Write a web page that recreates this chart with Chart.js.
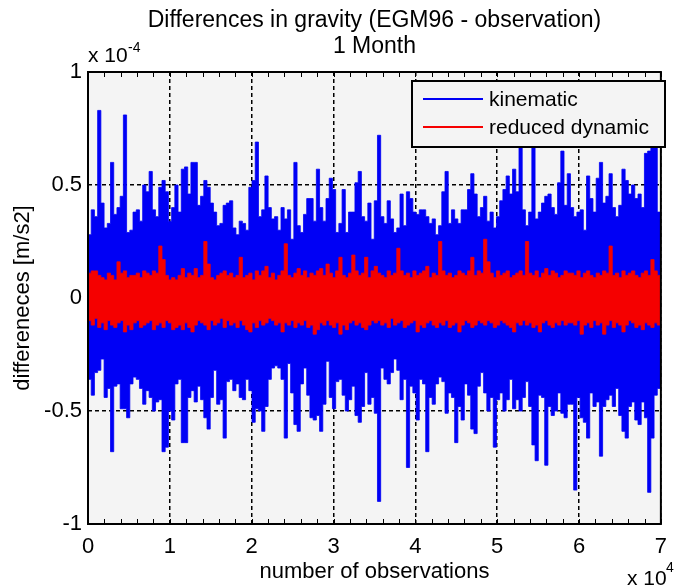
<!DOCTYPE html>
<html>
<head>
<meta charset="utf-8">
<script src="https://cdn.jsdelivr.net/npm/chart.js@4.4.1/dist/chart.umd.min.js"></script>
<style>
  html, body { margin: 0; padding: 0; background: #fff; }
</style>
</head>
<body>
<canvas id="chart" width="677" height="587"></canvas>
<script>
const titleLines = ["Differences in gravity (EGM96 - observation)", "1 Month"];
const xLabel = "number of observations";
const yLabel = "differeneces [m/s2]";
const seriesNames = ["kinematic", "reduced dynamic"];

const xMajor = [0, 10000, 20000, 30000, 40000, 50000, 60000, 70000];
const xTickLabels = ["0", "1", "2", "3", "4", "5", "6", "7"];
const yTicks = [-1, -0.5, 0, 0.5, 1];
const yTickLabels = ["-1", "-0.5", "0", "0.5", "1"];

// Envelope of the series: one max and one min per
// bin of observations. Values are in units of 1e-4 m/s2 (axis multiplier).
const binWidth = 393;

const kinHigh = [
  0.28,0.39,0.36,0.83,0.42,0.31,0.33,0.60,0.37,0.40,0.45,0.81,0.29,0.30,0.38,0.39,0.34,0.50,0.47,0.56,0.39,0.36,0.49,0.52,0.47,0.34,0.40,0.50,0.38,0.57,
  0.58,0.46,0.60,0.60,0.41,0.45,0.52,0.49,0.42,0.38,0.32,0.33,0.41,0.42,0.43,0.31,0.28,0.34,0.33,0.30,0.49,0.52,0.69,0.36,0.39,0.54,0.40,0.35,0.36,0.30,
  0.40,0.35,0.39,0.26,0.60,0.32,0.29,0.37,0.44,0.44,0.34,0.57,0.40,0.34,0.44,0.53,0.48,0.29,0.33,0.48,0.29,0.38,0.38,0.51,0.56,0.36,0.34,0.42,0.26,0.43,
  0.72,0.36,0.33,0.43,0.35,0.29,0.31,0.46,0.32,0.47,0.44,0.38,0.37,0.39,0.39,0.36,0.33,0.35,0.28,0.32,0.47,0.56,0.33,0.39,0.35,0.33,0.39,0.39,0.48,0.55,
  0.46,0.36,0.40,0.45,0.34,0.38,0.31,0.36,0.43,0.48,0.54,0.46,0.57,0.47,0.70,0.39,0.32,0.38,0.70,0.35,0.38,0.42,0.45,0.46,0.40,0.37,0.51,0.65,0.41,0.55,
  0.40,0.36,0.38,0.39,0.30,0.54,0.44,0.38,0.53,0.60,0.42,0.45,0.55,0.40,0.36,0.41,0.57,0.52,0.46,0.50,0.44,0.46,0.40,0.64,0.65,0.72,0.69,0.38
];
const kinLow = [
  -0.36,-0.43,-0.33,-0.32,-0.27,-0.44,-0.40,-0.68,-0.39,-0.38,-0.49,-0.49,-0.53,-0.38,-0.35,-0.36,-0.40,-0.47,-0.41,-0.44,-0.50,-0.46,-0.45,-0.68,-0.66,-0.50,-0.54,-0.38,-0.36,-0.64,
  -0.64,-0.44,-0.41,-0.46,-0.39,-0.45,-0.53,-0.58,-0.44,-0.32,-0.47,-0.45,-0.62,-0.37,-0.36,-0.41,-0.38,-0.44,-0.45,-0.36,-0.41,-0.55,-0.49,-0.50,-0.59,-0.48,-0.36,-0.31,-0.30,-0.31,
  -0.36,-0.62,-0.29,-0.42,-0.56,-0.59,-0.38,-0.31,-0.43,-0.53,-0.54,-0.52,-0.59,-0.47,-0.28,-0.44,-0.49,-0.37,-0.36,-0.43,-0.50,-0.45,-0.39,-0.52,-0.55,-0.48,-0.33,-0.47,-0.44,-0.51,
  -0.90,-0.31,-0.36,-0.38,-0.33,-0.27,-0.32,-0.45,-0.36,-0.75,-0.39,-0.42,-0.54,-0.36,-0.38,-0.68,-0.44,-0.47,-0.38,-0.35,-0.37,-0.51,-0.42,-0.44,-0.64,-0.48,-0.54,-0.38,-0.43,-0.58,
  -0.60,-0.39,-0.33,-0.42,-0.50,-0.44,-0.66,-0.45,-0.42,-0.50,-0.45,-0.36,-0.49,-0.45,-0.50,-0.44,-0.37,-0.48,-0.65,-0.72,-0.43,-0.44,-0.74,-0.48,-0.52,-0.50,-0.42,-0.51,-0.53,-0.47,
  -0.47,-0.85,-0.44,-0.53,-0.55,-0.62,-0.42,-0.48,-0.46,-0.70,-0.48,-0.45,-0.43,-0.48,-0.40,-0.52,-0.59,-0.62,-0.48,-0.46,-0.54,-0.56,-0.46,-0.53,-0.86,-0.62,-0.43,-0.40
];
const dynHigh = [
  0.11,0.12,0.12,0.10,0.09,0.08,0.11,0.10,0.08,0.16,0.11,0.12,0.09,0.10,0.10,0.11,0.09,0.12,0.11,0.10,0.12,0.11,0.23,0.17,0.10,0.08,0.09,0.08,0.10,0.13,
  0.09,0.11,0.10,0.13,0.09,0.10,0.25,0.15,0.09,0.08,0.10,0.11,0.12,0.10,0.11,0.09,0.10,0.18,0.09,0.10,0.11,0.08,0.12,0.10,0.12,0.14,0.09,0.11,0.08,0.10,
  0.12,0.24,0.10,0.09,0.11,0.13,0.10,0.12,0.09,0.11,0.10,0.12,0.13,0.10,0.15,0.11,0.09,0.12,0.18,0.10,0.09,0.11,0.19,0.12,0.10,0.11,0.18,0.09,0.12,0.14,
  0.11,0.10,0.09,0.12,0.10,0.11,0.22,0.12,0.10,0.11,0.09,0.12,0.10,0.11,0.12,0.14,0.09,0.11,0.10,0.25,0.12,0.10,0.11,0.09,0.10,0.12,0.11,0.10,0.12,0.18,
  0.10,0.12,0.11,0.26,0.16,0.11,0.09,0.12,0.10,0.11,0.12,0.09,0.10,0.11,0.12,0.10,0.25,0.11,0.10,0.12,0.09,0.11,0.13,0.10,0.12,0.11,0.09,0.10,0.12,0.11,
  0.11,0.10,0.12,0.09,0.11,0.12,0.10,0.09,0.11,0.10,0.12,0.11,0.23,0.10,0.11,0.09,0.12,0.10,0.11,0.12,0.10,0.09,0.11,0.12,0.10,0.17,0.12,0.10
];
const dynLow = [
  -0.10,-0.12,-0.09,-0.13,-0.11,-0.14,-0.10,-0.12,-0.13,-0.11,-0.10,-0.15,-0.12,-0.14,-0.11,-0.10,-0.13,-0.12,-0.11,-0.10,-0.14,-0.12,-0.11,-0.13,-0.10,-0.11,-0.14,-0.13,-0.12,-0.14,
  -0.11,-0.13,-0.15,-0.12,-0.10,-0.11,-0.12,-0.14,-0.10,-0.12,-0.11,-0.09,-0.13,-0.10,-0.12,-0.11,-0.13,-0.10,-0.12,-0.14,-0.15,-0.11,-0.13,-0.10,-0.12,-0.11,-0.09,-0.10,-0.12,-0.11,
  -0.15,-0.11,-0.12,-0.10,-0.13,-0.11,-0.12,-0.10,-0.13,-0.12,-0.16,-0.14,-0.11,-0.12,-0.10,-0.12,-0.13,-0.11,-0.16,-0.12,-0.14,-0.11,-0.10,-0.12,-0.11,-0.13,-0.14,-0.12,-0.10,-0.11,
  -0.10,-0.12,-0.11,-0.13,-0.09,-0.12,-0.11,-0.10,-0.13,-0.12,-0.11,-0.10,-0.15,-0.12,-0.13,-0.11,-0.10,-0.12,-0.13,-0.11,-0.12,-0.10,-0.13,-0.12,-0.11,-0.15,-0.12,-0.10,-0.11,-0.13,
  -0.12,-0.10,-0.11,-0.12,-0.10,-0.11,-0.13,-0.12,-0.10,-0.11,-0.12,-0.13,-0.15,-0.11,-0.12,-0.10,-0.12,-0.11,-0.13,-0.12,-0.15,-0.11,-0.10,-0.12,-0.13,-0.11,-0.12,-0.10,-0.12,-0.11,
  -0.11,-0.12,-0.10,-0.16,-0.12,-0.11,-0.13,-0.10,-0.12,-0.11,-0.16,-0.12,-0.10,-0.13,-0.11,-0.12,-0.15,-0.12,-0.10,-0.11,-0.13,-0.12,-0.14,-0.11,-0.12,-0.13,-0.11,-0.12
];

const FONT = '"Liberation Sans", Arial, sans-serif';
const BLUE = "rgb(0,0,245)";
const RED = "rgb(245,0,0)";

// One step per bin; the last value is held to the end of its bin.
function steps(vals) {
  const pts = vals.map((v, i) => ({ x: i * binWidth, y: v }));
  pts.push({ x: vals.length * binWidth, y: vals[vals.length - 1] });
  return pts;
}

function bandEdge(label, vals, color, fillTo, order) {
  return {
    label: label,
    data: steps(vals),
    borderColor: color,
    backgroundColor: color,
    borderWidth: 0.8,
    stepped: "before",
    pointRadius: 0,
    fill: fillTo,
    order: order,
  };
}

// MATLAB-style frame: grey axes background, box, inside ticks, legend, titles.
const matlabFrame = {
  id: "matlabFrame",
  beforeDraw(chart) {
    const { ctx, chartArea: a } = chart;
    ctx.save();
    ctx.fillStyle = "#fff";
    ctx.fillRect(0, 0, chart.width, chart.height);
    ctx.fillStyle = "#f4f4f4";
    ctx.fillRect(a.left, a.top, a.right - a.left, a.bottom - a.top);
    ctx.restore();
  },
  afterDraw(chart) {
    const { ctx, chartArea: a } = chart;
    const xs = chart.scales.x;
    ctx.save();

    // inside tick marks on top and bottom edges
    ctx.strokeStyle = "#000";
    ctx.lineWidth = 1;
    xs.ticks.forEach((t) => {
      const px = Math.round(xs.getPixelForValue(t.value)) + 0.5;
      ctx.beginPath();
      ctx.moveTo(px, a.bottom);
      ctx.lineTo(px, a.bottom - 5);
      ctx.moveTo(px, a.top);
      ctx.lineTo(px, a.top + 5);
      ctx.stroke();
    });

    // axes box
    ctx.lineWidth = 2;
    ctx.strokeRect(a.left, a.top, a.right - a.left, a.bottom - a.top);

    // legend, one row per series (upper edge dataset of each band)
    const lx = 412, ly = 81, lw = 253, lh = 66;
    ctx.fillStyle = "#f4f4f4";
    ctx.fillRect(lx, ly, lw, lh);
    ctx.lineWidth = 2;
    ctx.strokeRect(lx, ly, lw, lh);
    const rows = [99, 127];
    [0, 2].forEach((di, i) => {
      const ds = chart.data.datasets[di];
      ctx.strokeStyle = ds.borderColor;
      ctx.lineWidth = 2;
      ctx.beginPath();
      ctx.moveTo(423, rows[i]);
      ctx.lineTo(483, rows[i]);
      ctx.stroke();
      ctx.fillStyle = "#000";
      ctx.font = "21px " + FONT;
      ctx.textAlign = "left";
      ctx.textBaseline = "middle";
      ctx.fillText(ds.label, 489, rows[i] + 1);
    });

    // title
    const cx = (a.left + a.right) / 2;
    ctx.fillStyle = "#000";
    ctx.textAlign = "center";
    ctx.textBaseline = "alphabetic";
    ctx.font = "23px " + FONT;
    ctx.fillText(titleLines[0], cx, 27);
    ctx.fillText(titleLines[1], cx, 53);

    // axis multipliers
    ctx.textAlign = "left";
    ctx.font = "21px " + FONT;
    ctx.fillText("x 10", 88, 62);
    ctx.font = "14px " + FONT;
    ctx.fillText("-4", 128, 52);
    ctx.font = "21px " + FONT;
    ctx.fillText("x 10", 627, 585);
    ctx.font = "14px " + FONT;
    ctx.fillText("4", 666, 572);

    ctx.restore();
  },
};

new Chart(document.getElementById("chart"), {
  type: "line",
  data: {
    datasets: [
      bandEdge(seriesNames[0], kinHigh, BLUE, 1, 2),
      bandEdge(seriesNames[0] + " (min)", kinLow, BLUE, false, 2),
      bandEdge(seriesNames[1], dynHigh, RED, 3, 1),
      bandEdge(seriesNames[1] + " (min)", dynLow, RED, false, 1),
    ],
  },
  options: {
    responsive: false,
    animation: false,
    events: [],
    layout: { padding: { top: 72, right: 5, left: 0, bottom: 0 } },
    scales: {
      x: {
        type: "linear",
        min: 0,
        max: 70000,
        afterFit: (s) => { s.height = 63; },
        ticks: {
          stepSize: 2000,
          autoSkip: false,
          maxRotation: 0,
          padding: 10,
          color: "#000",
          font: { family: FONT, size: 22 },
          callback: (v) => {
            const k = xMajor.indexOf(v);
            return k >= 0 ? xTickLabels[k] : "";
          },
        },
        grid: {
          drawTicks: false,
          lineWidth: 1.5,
          color: (c) => (c.tick && xMajor.includes(c.tick.value) ? "#000" : "rgba(0,0,0,0)"),
        },
        border: { display: false, dash: [4, 3] },
        title: {
          display: true,
          text: xLabel,
          color: "#000",
          font: { family: FONT, size: 22 },
          padding: { top: 0, bottom: 2 },
        },
      },
      y: {
        min: -1,
        max: 1,
        afterFit: (s) => { s.width = 88; },
        afterBuildTicks: (s) => { s.ticks = yTicks.map((v) => ({ value: v })); },
        ticks: {
          padding: 6,
          color: "#000",
          font: { family: FONT, size: 22 },
          callback: (v) => yTickLabels[yTicks.indexOf(v)],
        },
        grid: { drawTicks: false, lineWidth: 1.5, color: "#000" },
        border: { display: false, dash: [4, 3] },
        title: {
          display: true,
          text: yLabel,
          color: "#000",
          font: { family: FONT, size: 22 },
          padding: { top: 10, bottom: 0 },
        },
      },
    },
    plugins: {
      legend: { display: false },
      tooltip: { enabled: false },
      title: { display: false },
      filler: { propagate: false },
    },
  },
  plugins: [matlabFrame],
});
</script>
</body>
</html>
